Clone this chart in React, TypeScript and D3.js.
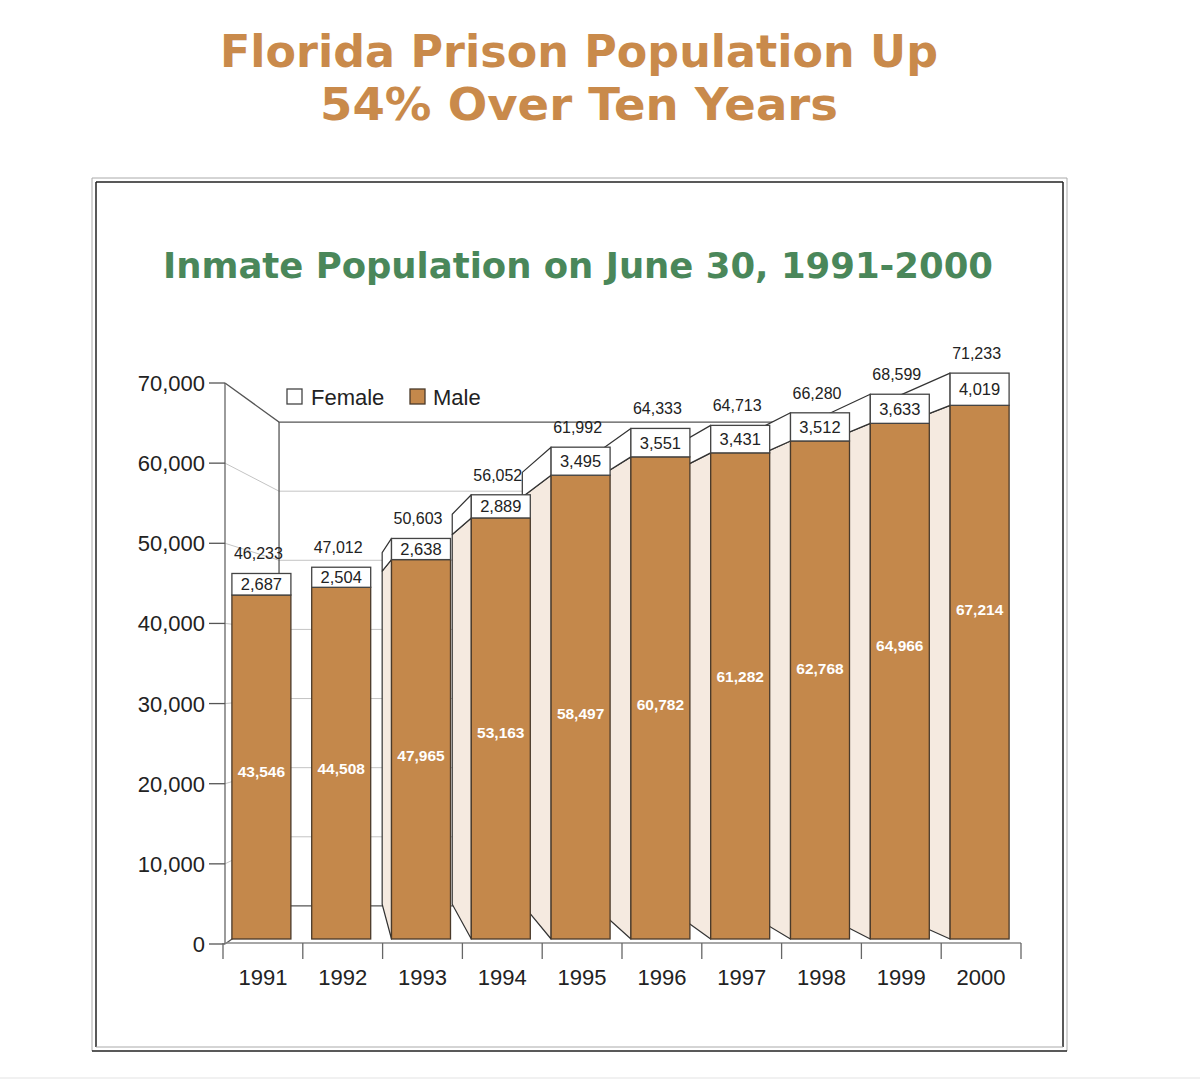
import React from 'react';
import * as d3 from 'd3';

// ---------- data ----------
const years = ['1991', '1992', '1993', '1994', '1995', '1996', '1997', '1998', '1999', '2000'];
const totalValues = [46233, 47012, 50603, 56052, 61992, 64333, 64713, 66280, 68599, 71233];
const femaleValues = [2687, 2504, 2638, 2889, 3495, 3551, 3431, 3512, 3633, 4019];
const maleValues = [43546, 44508, 47965, 53163, 58497, 60782, 61282, 62768, 64966, 67214];
const yTicks = [0, 10000, 20000, 30000, 40000, 50000, 60000, 70000];
const legendLabels = ['Female', 'Male'];
const titleLines = ['Florida Prison Population Up', '54% Over Ten Years'];
const subtitle = 'Inmate Population on June 30, 1991-2000';

// ---------- layout (not data) ----------
const maleLabelNudge = [4, 5, 6, 4, 6, 6, -20, -22, -36, -63];
const titleWidths = [718, 518];

const BROWN = '#c4884b';
const BEIGE = '#f5eae0';
const ORANGE = '#c98a4b';
const GREEN = '#4a875a';
const SANS = '"Liberation Sans", Arial, Helvetica, sans-serif';
const BOLD = '"DejaVu Sans", Verdana, sans-serif';

export default function App() {
  const x = d3.scaleBand<string>().domain(years).range([223, 1021]);
  const y = d3.scaleLinear().domain([0, 70000]).range([944, 383]);
  const fmt = d3.format(',');
  const floorY = 939;
  const barW = 59;

  // bar perspective
  const vp = [315, 654];
  const k = 0.122;
  const proj = (px: number, py: number) => [px + k * (vp[0] - px), py + k * (vp[1] - py)];

  // back wall perspective
  const wallVP = [618, 667];
  const wk = 0.1375;
  const axisX = 225;
  const backX = axisX + wk * (wallVP[0] - axisX);
  const backRight = 1021 + wk * (wallVP[0] - 1021);
  const backY = (v: number) => y(v) + wk * (wallVP[1] - y(v));

  const rows = years.map((yr, i) => {
    const xc = (x(yr) as number) + x.bandwidth() / 2 - 1.5;
    const xL = xc - barW / 2;
    const yTop = y(totalValues[i]);
    const yMid = y(maleValues[i]);
    return { yr, i, xc, xL, yTop, yMid };
  });

  const poly = (pts: number[][]) => 'M' + pts.map((p) => p.join(',')).join('L') + 'Z';

  return (
    <svg
      width={1200}
      height={1082}
      style={{ position: 'absolute', left: 0, top: 0, background: '#fff' }}
      fontFamily={SANS}
    >
      <rect x={0} y={0} width={1200} height={1082} fill="#fff" />

      {/* Titles */}
      {titleLines.map((t, i) => (
        <text
          key={t}
          x={579}
          y={67 + i * 53}
          textAnchor="middle"
          fontFamily={BOLD}
          fontWeight="bold"
          fontSize={44.5}
          fill={ORANGE}
          textLength={titleWidths[i]}
          lengthAdjust="spacingAndGlyphs"
        >
          {t}
        </text>
      ))}

      {/* Frame */}
      <line x1={92} y1={178} x2={1067} y2={178} stroke="#aaa" strokeWidth={1} />
      <line x1={92} y1={178} x2={92} y2={1051} stroke="#aaa" strokeWidth={1} />
      <line x1={1067} y1={178} x2={1067} y2={1051} stroke="#aaa" strokeWidth={1} />
      <line x1={92} y1={1051} x2={1067} y2={1051} stroke="#222" strokeWidth={1.5} />
      <line x1={96} y1={182} x2={1063} y2={182} stroke="#222" strokeWidth={1.5} />
      <line x1={96} y1={182} x2={96} y2={1047} stroke="#222" strokeWidth={1.5} />
      <line x1={1063} y1={182} x2={1063} y2={1047} stroke="#222" strokeWidth={1.5} />
      <line x1={96} y1={1047} x2={1063} y2={1047} stroke="#aaa" strokeWidth={1} />
      <line x1={0} y1={1078} x2={1200} y2={1078} stroke="#e3e3e3" strokeWidth={1} />

      {/* Subtitle */}
      <text
        x={578}
        y={278}
        textAnchor="middle"
        fontFamily={BOLD}
        fontWeight="bold"
        fontSize={35.5}
        fill={GREEN}
        textLength={830}
        lengthAdjust="spacingAndGlyphs"
      >
        {subtitle}
      </text>

      {/* Back wall and gridlines */}
      {yTicks.map((v) => {
        const dark = v === 70000 || v === 0;
        return (
          <path
            key={'g' + v}
            d={`M${axisX},${y(v)}L${backX},${backY(v)}L${backRight},${backY(v)}`}
            fill="none"
            stroke={dark ? '#555' : '#c4c4c4'}
            strokeWidth={dark ? 1.3 : 1}
          />
        );
      })}
      <line x1={backX} y1={backY(70000)} x2={backX} y2={backY(0)} stroke="#555" strokeWidth={1.3} />

      {/* Left axis */}
      <line x1={axisX} y1={y(70000)} x2={axisX} y2={y(0)} stroke="#666" strokeWidth={1.3} />
      {yTicks.map((v) => (
        <g key={'t' + v}>
          <line x1={209} y1={y(v)} x2={axisX} y2={y(v)} stroke="#555" strokeWidth={1.3} />
          <text x={205} y={y(v) + 8} textAnchor="end" fontSize={22} fill="#222">
            {fmt(v)}
          </text>
        </g>
      ))}

      {/* Bottom axis */}
      <line x1={axisX} y1={943} x2={1021} y2={943} stroke="#888" strokeWidth={1.6} />
      {years.concat(['end']).map((yr, i) => {
        const bx = i < years.length ? (x(yr) as number) : 1021;
        return <line key={'bt' + i} x1={bx} y1={943} x2={bx} y2={959} stroke="#666" strokeWidth={1.3} />;
      })}
      {years.map((yr) => (
        <text
          key={'yl' + yr}
          x={(x(yr) as number) + x.bandwidth() / 2}
          y={985}
          textAnchor="middle"
          fontSize={22}
          fill="#222"
        >
          {yr}
        </text>
      ))}

      {/* Side faces */}
      {rows
        .filter((r) => r.xL > vp[0] + 1)
        .map((r) => {
          const a = proj(r.xL, r.yTop);
          const b = proj(r.xL, r.yMid);
          const c = proj(r.xL, floorY);
          return (
            <g key={'s' + r.yr}>
              <path
                d={poly([[r.xL, r.yMid], [r.xL, floorY], c, b])}
                fill={BEIGE}
                stroke="#333"
                strokeWidth={1.2}
                strokeLinejoin="round"
              />
              <path
                d={poly([[r.xL, r.yTop], [r.xL, r.yMid], b, a])}
                fill="#fff"
                stroke="#333"
                strokeWidth={1.2}
                strokeLinejoin="round"
              />
            </g>
          );
        })}

      {/* Front faces */}
      {rows.map((r) => (
        <g key={'b' + r.yr}>
          <rect
            x={r.xL}
            y={r.yMid}
            width={barW}
            height={floorY - r.yMid}
            fill={BROWN}
            stroke="#4a3a2a"
            strokeWidth={1.3}
          />
          <rect
            x={r.xL}
            y={r.yTop}
            width={barW}
            height={r.yMid - r.yTop}
            fill="#fff"
            stroke="#444"
            strokeWidth={1.3}
          />
          <text x={r.xc} y={(r.yTop + r.yMid) / 2 + 6} textAnchor="middle" fontSize={16.5} fill="#222">
            {fmt(femaleValues[r.i])}
          </text>
          <text x={r.xc - 3} y={r.yTop - 14} textAnchor="middle" fontSize={16} fill="#222">
            {fmt(totalValues[r.i])}
          </text>
          <text
            x={r.xc}
            y={(r.yMid + floorY) / 2 + maleLabelNudge[r.i] + 6}
            textAnchor="middle"
            fontSize={15.5}
            fontWeight="bold"
            fill="#fff"
          >
            {fmt(maleValues[r.i])}
          </text>
        </g>
      ))}

      {/* Legend */}
      <rect x={287} y={389} width={15} height={15} fill="#fff" stroke="#444" strokeWidth={1.3} />
      <text x={311} y={405} fontSize={22} fill="#222">
        {legendLabels[0]}
      </text>
      <rect x={410} y={389} width={15} height={15} fill={BROWN} stroke="#4a3a2a" strokeWidth={1.3} />
      <text x={433} y={405} fontSize={22} fill="#222">
        {legendLabels[1]}
      </text>
    </svg>
  );
}
